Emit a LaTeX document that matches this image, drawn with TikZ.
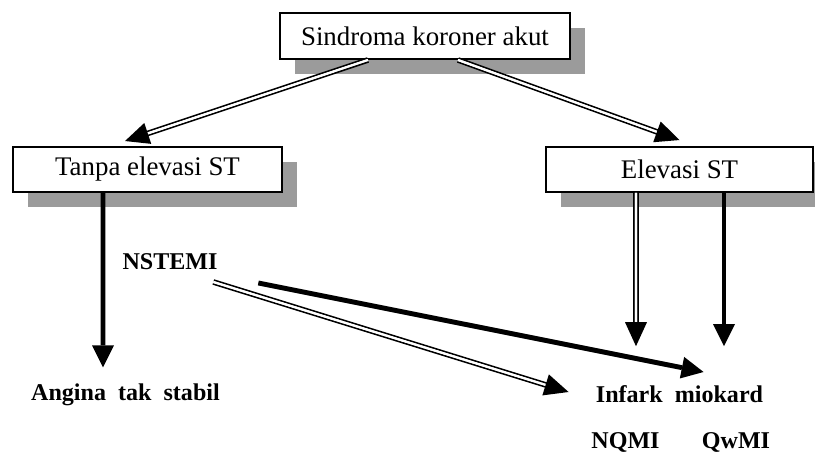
\documentclass[tikz,border=0pt]{standalone}
\usepackage{fontspec}
\setmainfont{Liberation Serif}
\usepackage{tikz}
\usetikzlibrary{calc}
\usetikzlibrary{arrows.meta, shadows, positioning}
\definecolor{bayang}{RGB}{155,155,155}
\tikzset{
	kotak/.style={draw, line width=1.1pt, fill=white, inner sep=0pt, font=\fontsize{15.3}{18}\selectfont,
		drop shadow={shadow xshift=0.3cm, shadow yshift=-0.3cm, fill=bayang, opacity=1}},
	teks/.style={inner sep=0pt, anchor=base, font=\fontsize{13.7}{16}\selectfont\bfseries},
	ganda/.style={double, double distance=1.2pt, line width=1pt, shorten >=0.3cm,
		postaction={draw=white, line width=1.2pt, shorten >=0pt, -{Triangle[length=0.48cm, width=0.44cm, color=black, line width=0pt]}}},
	tebal/.style={line width=2.8pt, -{Triangle[length=0.44cm, width=0.44cm, line width=0pt]}}
}

\begin{document}
\begin{tikzpicture}
	\useasboundingbox (0, 0) rectangle (16.3, -9.1);
	\node [kotak, minimum width=5.8cm, minimum height=0.92cm] (sca) at (8.5, -0.72) {Sindroma koroner akut};
	\node [kotak, minimum width=5.38cm, minimum height=0.9cm] (tes) at (2.95, -3.39) {Tanpa elevasi ST};
	\node [kotak, minimum width=5.34cm, minimum height=0.9cm] (es) at (13.59, -3.39) {Elevasi ST};
	\node [teks] (ns) at (3.4, -5.4) {NSTEMI};
	\node [teks] (ats) at (2.51, -8.02) {Angina\ \ tak\ \ stabil};
	\node [teks] (im) at (13.59, -8.06) {Infark\ \ miokard};
	\node [teks] (nq) at (12.51, -8.98) {NQMI};
	\node [teks] (qw) at (14.72, -8.98) {QwMI};
	\draw [ganda] ([xshift=-1.14cm]sca.south) -- ($(tes.north)+(-0.45, 0.1)$);
	\draw [ganda] ([xshift=0.66cm]sca.south) -- ($(es.north)+(0, 0.12)$);
	\draw [tebal] ([xshift=-0.89cm]tes.south) -- ($(ats.north)+(-0.45, 0.33)$);
	\draw [ganda] ([xshift=-0.87cm]es.south) -- ($(im.north)+(-0.87, 0.79)$);
	\draw [tebal] ([xshift=0.89cm]es.south) -- ($(im.north)+(0.89, 0.79)$);
	\draw [ganda] ($(ns.base east)+(-0.09, -0.24)$) -- ($(im.base west)+(-0.54, 0.22)$);
	\draw [tebal] ($(ns.base east)+(0.81, -0.26)$) -- ($(im.base west)+(2.16, 0.62)$);
\end{tikzpicture}
\end{document}
